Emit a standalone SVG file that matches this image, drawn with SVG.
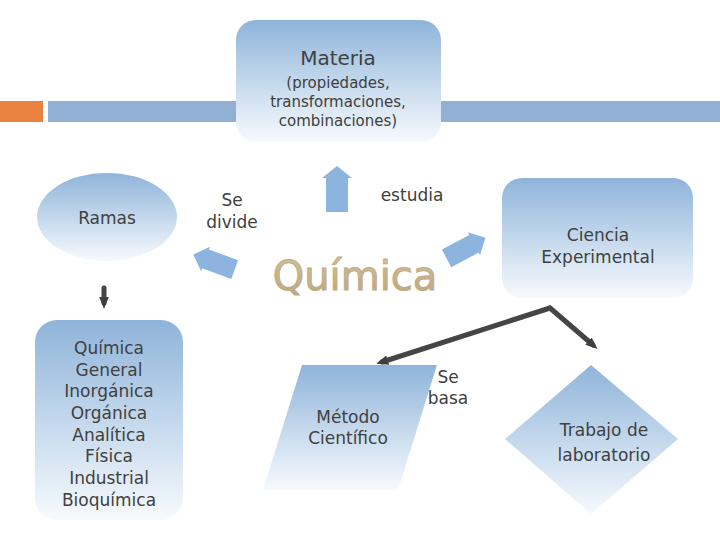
<svg xmlns="http://www.w3.org/2000/svg" width="720" height="540" viewBox="0 0 720 540">
<defs>
  <linearGradient id="g" x1="0" y1="0" x2="0" y2="1">
    <stop offset="0" stop-color="#8FB4DA"/>
    <stop offset="0.55" stop-color="#C8DBEE"/>
    <stop offset="1" stop-color="#F7FAFD"/>
  </linearGradient>
  <linearGradient id="gq" x1="0" y1="0" x2="0" y2="1">
    <stop offset="0" stop-color="#D3C3A0"/>
    <stop offset="1" stop-color="#B9A57C"/>
  </linearGradient>
  <marker id="dot" viewBox="0 0 10 10" refX="5" refY="5" markerWidth="2.4" markerHeight="2.4" orient="auto" markerUnits="strokeWidth">
    <path d="M0,1 L10,5 L0,9 Z" fill="#3F3F3F"/>
  </marker>
</defs>
<style>
  .node { fill: url(#g); }
  .t { font-family: "DejaVu Sans", Verdana, sans-serif; font-size: 17px; fill: #404040; text-anchor: middle; }
  .s { font-size: 15px; }
  .blk { fill: #8DB4DE; }
  .con { fill: none; stroke: #454545; stroke-width: 5; stroke-linecap: round; stroke-linejoin: round; }
</style>
<rect width="720" height="540" fill="#FFFFFF"/>
<g id="header">
  <rect x="0" y="101" width="43" height="21" fill="#E8823E"/>
  <rect x="48" y="101" width="672" height="21" fill="#92B0D3"/>
</g>
<g id="materia">
  <rect class="node" x="236" y="20" width="205" height="122" rx="20"/>
  <text class="t" x="338" y="65" style="font-size:20px">Materia</text>
  <text class="t s" x="338" y="88">(propiedades,</text>
  <text class="t s" x="338" y="107">transformaciones,</text>
  <text class="t s" x="338" y="126">combinaciones)</text>
</g>
<g id="ramas">
  <ellipse class="node" cx="107" cy="217" rx="70" ry="44"/>
  <text class="t" x="107" y="224">Ramas</text>
</g>
<g id="ramas-lista">
  <rect class="node" x="35" y="320" width="148" height="200" rx="22"/>
  <text class="t" x="109" y="354">Química</text>
  <text class="t" x="109" y="376">General</text>
  <text class="t" x="109" y="397">Inorgánica</text>
  <text class="t" x="109" y="419">Orgánica</text>
  <text class="t" x="109" y="441">Analítica</text>
  <text class="t" x="109" y="462">Física</text>
  <text class="t" x="109" y="484">Industrial</text>
  <text class="t" x="109" y="506">Bioquímica</text>
</g>
<g id="quimica">
  <text x="355" y="290" style="font-family:'DejaVu Sans',Verdana,sans-serif;font-size:40px;text-anchor:middle;fill:url(#gq);stroke:#BFAC84;stroke-width:1">Química</text>
</g>
<g id="ciencia">
  <rect class="node" x="502" y="178" width="191" height="120" rx="20"/>
  <text class="t" x="598" y="241">Ciencia</text>
  <text class="t" x="598" y="263">Experimental</text>
</g>
<g id="metodo">
  <polygon class="node" points="302,365 437,365 398,490 263,490"/>
  <text class="t" x="348" y="423">Método</text>
  <text class="t" x="348" y="444">Científico</text>
</g>
<g id="trabajo">
  <polygon class="node" points="591,365 678,439 591,514 505,439"/>
  <text class="t" x="604" y="436">Trabajo de</text>
  <text class="t" x="604" y="461">laboratorio</text>
</g>
<g id="connectors">
  <polygon class="blk" points="326,212 326,178 322,178 337,166 352,178 348,178 348,212"/>
  <polygon class="blk" transform="translate(214,262) rotate(20)" points="22,-10 -9,-10 -9,-13 -22,0 -9,13 -9,10 22,10"/>
  <polygon class="blk" transform="translate(466,248) rotate(-28)" points="-22,-10 9,-10 9,-13 22,0 9,13 9,10 -22,10"/>
  <line class="con" x1="104" y1="288" x2="104" y2="303" stroke-width="4" marker-end="url(#dot)"/>
  <polyline class="con" points="550,308 382,362" marker-end="url(#dot)"/>
  <polyline class="con" points="550,308 593,345" marker-end="url(#dot)"/>
</g>
<g id="labels">
  <text class="t" x="232" y="206">Se</text>
  <text class="t" x="232" y="228">divide</text>
  <text class="t" x="412" y="201">estudia</text>
  <text class="t" x="448" y="383">Se</text>
  <text class="t" x="448" y="404">basa</text>
</g>
</svg>
